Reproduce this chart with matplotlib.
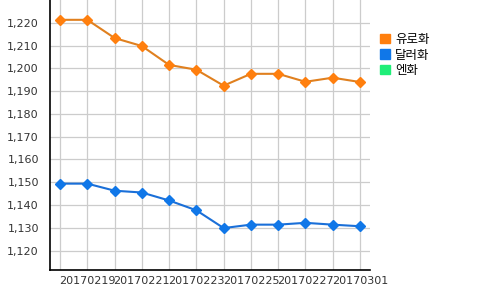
import matplotlib
matplotlib.use("Agg")
import matplotlib.pyplot as plt
from matplotlib.patches import Patch
from matplotlib.ticker import FuncFormatter

# data
dates = ["20170218", "20170219", "20170220", "20170221", "20170222", "20170223",
         "20170224", "20170225", "20170226", "20170227", "20170228", "20170301"]
euro = [1221.3, 1221.3, 1213.3, 1209.8, 1201.5, 1199.4,
        1192.4, 1197.6, 1197.6, 1194.1, 1195.9, 1194.0]
dollar = [1149.4, 1149.4, 1146.3, 1145.5, 1142.0, 1137.7,
          1129.9, 1131.4, 1131.4, 1132.2, 1131.4, 1130.7]
series_names = ["유로화", "달러화", "엔화"]
colors = ["#FF7F0E", "#1077E8", "#1FEE78"]
line_colors = ["#E0801F", "#1A6FD8"]

plt.rcParams["font.family"] = ["DejaVu Sans", "Noto Sans CJK KR"]

fig = plt.figure(figsize=(5, 2.9), dpi=100)
ax = fig.add_axes([0.1, 0.069, 0.64, 0.931])

x = list(range(len(dates)))
ax.plot(x, euro, color=line_colors[0], lw=1.5, marker="D", ms=5.5,
        mfc=colors[0], mec=colors[0], zorder=3)
ax.plot(x, dollar, color=line_colors[1], lw=1.5, marker="D", ms=5.5,
        mfc=colors[1], mec=colors[1], zorder=3)

ax.set_xlim(-0.37, 11.37)
ax.set_ylim(1111.5, 1230)
ax.set_xticks(x)
ax.set_xticklabels([d if i % 2 == 1 else "" for i, d in enumerate(dates)])
ax.set_yticks(range(1120, 1230, 10))
ax.yaxis.set_major_formatter(FuncFormatter(lambda v, p: f"{int(v):,}"))
ax.tick_params(length=0, labelsize=8, colors="#333333")
ax.tick_params(axis="y", pad=8)
ax.tick_params(axis="x", pad=4)
ax.grid(True, color="#CCCCCC", lw=0.9)
ax.set_axisbelow(True)
for s in ["top", "right"]:
    ax.spines[s].set_visible(False)
for s in ["left", "bottom"]:
    ax.spines[s].set_color("black")
    ax.spines[s].set_linewidth(1.2)

handles = [Patch(color=c) for c in colors]
fig.legend(handles, series_names, loc="upper left", bbox_to_anchor=(0.738, 0.925),
           frameon=False, handlelength=0.8, handleheight=0.8,
           handletextpad=0.4, labelspacing=0.2,
           prop={"family": ["Noto Sans CJK KR"], "size": 9})

fig.savefig("out.png", dpi=100)
